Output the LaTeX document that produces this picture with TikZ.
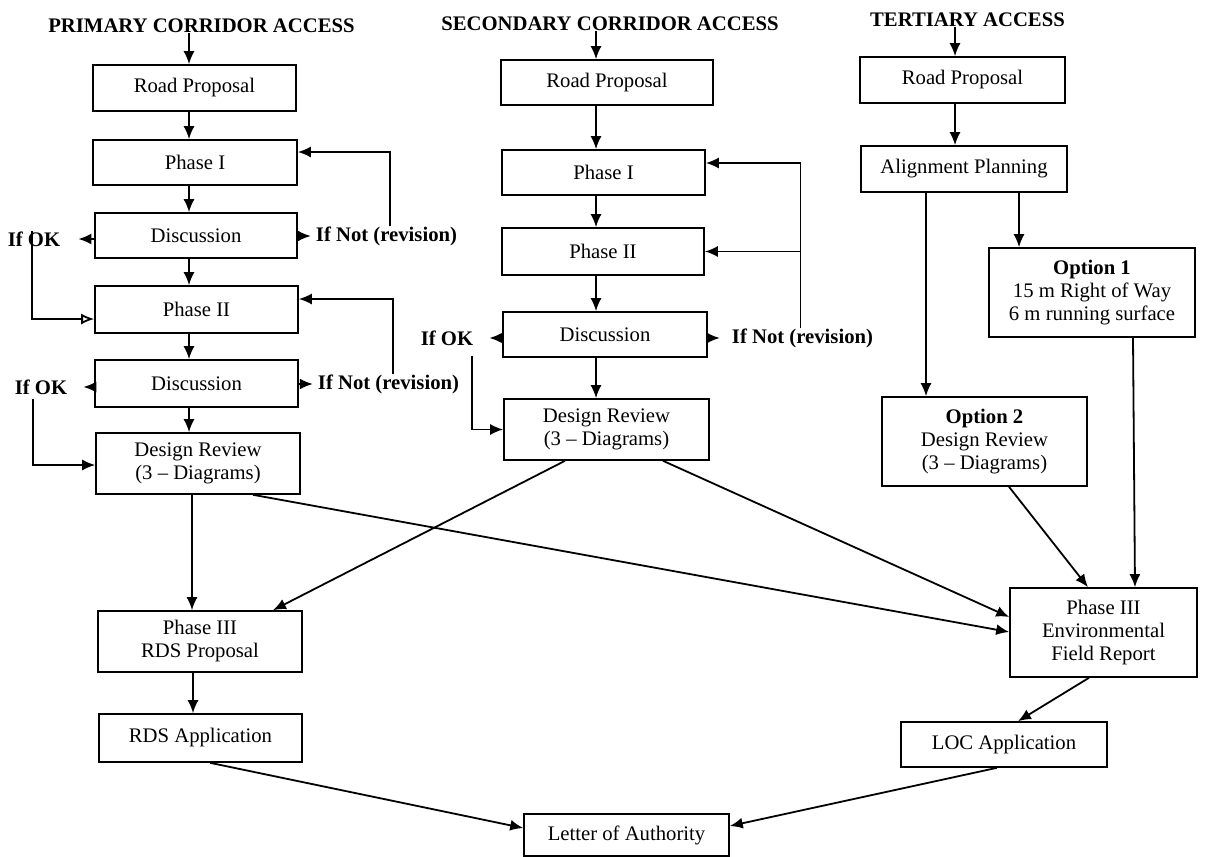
\documentclass[tikz,border=0pt]{standalone}
\usepackage{fontspec}
\setmainfont{Liberation Serif}
\usetikzlibrary{arrows.meta}

\begin{document}
\begin{tikzpicture}[x=1pt,y=-1pt,
  every node/.style={font=\fontsize{20.7}{23}\selectfont, inner sep=0pt},
  box/.style={draw, line width=1.6pt, align=center},
  flow/.style={line width=1.8pt, -{Latex[length=13pt,width=11pt]}},
  hd/.style={font=\fontsize{20.7}{23}\selectfont\bfseries}]

\useasboundingbox (0,0) rectangle (1211,857);

%Headings
\node[hd] (pTitle) at (201.5,26) {PRIMARY CORRIDOR ACCESS};
\node[hd] (sTitle) at (610,24) {SECONDARY CORRIDOR ACCESS};
\node[hd] (tTitle) at (967.5,20) {TERTIARY ACCESS};
\coordinate (pcol) at (189,0);
\coordinate (scol) at (596,0);
\coordinate (tcol) at (955,0);

%Primary Corridor
\node[box, minimum width=203pt, minimum height=46pt] (pRoad) at (194.5,88) {Road Proposal};
\node[box, minimum width=204pt, minimum height=45pt] (pPh1) at (195,162.5) {Phase I};
\node[box, minimum width=202pt, minimum height=45pt] (pDis1) at (196,235.5) {Discussion};
\node[box, minimum width=203pt, minimum height=47pt] (pPh2) at (196.5,309.5) {Phase II};
\node[box, minimum width=203pt, minimum height=47pt] (pDis2) at (196.5,383.5) {Discussion};
\node[box, minimum width=204pt, minimum height=61pt] (pRev) at (198,463.5) {Design Review\\(3 – Diagrams)};
\node[box, minimum width=204pt, minimum height=61pt] (pPh3) at (200,641.5) {Phase III\\RDS Proposal};
\node[box, minimum width=203pt, minimum height=48pt] (pApp) at (200.5,738) {RDS Application};
\node[hd] (pOk1) at (34,239) {If OK};
\node[hd] (pNot1) at (386.5,236) {If Not (revision)};
\node[hd] (pOk2) at (41,387) {If OK};
\node[hd] (pNot2) at (388.5,384) {If Not (revision)};

%Secondary Corridor
\node[box, minimum width=212pt, minimum height=45pt] (sRoad) at (607,82.5) {Road Proposal};
\node[box, minimum width=203pt, minimum height=45pt] (sPh1) at (603.5,172.5) {Phase I};
\node[box, minimum width=202pt, minimum height=47pt] (sPh2) at (603,251.5) {Phase II};
\node[box, minimum width=204pt, minimum height=45pt] (sDis) at (605,334.5) {Discussion};
\node[box, minimum width=205pt, minimum height=61pt] (sRev) at (606.5,429.5) {Design Review\\(3 – Diagrams)};
\node[hd] (sOk) at (447,338) {If OK};
\node[hd] (sNot) at (802.5,338) {If Not (revision)};

%Tertiary Access
\node[box, minimum width=205pt, minimum height=46pt] (tRoad) at (962.5,80) {Road Proposal};
\node[box, minimum width=206pt, minimum height=46pt] (tAlign) at (964,169) {Alignment Planning};
\node[box, minimum width=206pt, minimum height=89pt] (tOpt1) at (1092,292.5) {\textbf{Option 1}\\15 m Right of Way\\6 m running surface};
\node[box, minimum width=205pt, minimum height=89pt] (tOpt2) at (984.5,441.5) {\textbf{Option 2}\\Design Review\\(3 – Diagrams)};
\node[box, minimum width=187pt, minimum height=89pt] (tEnv) at (1103.5,632.5) {Phase III\\Environmental\\Field Report};
\node[box, minimum width=206pt, minimum height=45pt] (tLoc) at (1004,744.5) {LOC Application};

%Final
\node[box, minimum width=205pt, minimum height=42pt] (letter) at (626.5,835) {Letter of Authority};

%Primary Arrows
\draw[flow] (pTitle.south -| pcol) -- (pRoad.north -| pcol);
\draw[flow] (pRoad.south -| pcol) -- (pPh1.north -| pcol);
\draw[flow] (pPh1.south -| pcol) -- (pDis1.north -| pcol);
\draw[flow] (pDis1.south -| pcol) -- (pPh2.north -| pcol);
\draw[flow] (pPh2.south -| pcol) -- (pDis2.north -| pcol);
\draw[flow] (pDis2.south -| pcol) -- (pRev.north -| pcol);
\draw[flow, shorten >=18pt] (pDis1.west |- pOk1) -- (pOk1.east);
\draw[flow, shorten >=5pt] (pDis1.east |- pNot1) -- (pNot1.west);
\draw[flow, shorten >=16pt] (pDis2.west |- pOk2) -- (pOk2.east);
\draw[flow, shorten >=5pt] (pDis2.east |- pNot2) -- (pNot2.west);
\draw[line width=1.8pt, -{Latex[open,length=13pt,width=11pt]}] ([xshift=-2pt]pOk1.north) |- ([yshift=-9.5pt]pPh2.west);
\draw[flow] ([xshift=-8pt,yshift=-4pt]pOk2.south) |- ([yshift=-1.5pt]pRev.west);
\draw[flow] ([xshift=3.5pt]pNot1.north) |- ([yshift=10.5pt]pPh1.east);
\draw[flow] ([xshift=4.5pt]pNot2.north) |- ([yshift=10.5pt]pPh2.east);
\draw[flow] ([xshift=-6pt]pRev.south) -- ([xshift=-6pt]pRev.south |- pPh3.north);
\draw[flow] ([xshift=-7pt]pPh3.south) -- ([xshift=-7pt]pPh3.south |- pApp.north);

%Secondary Arrows
\draw[flow] (sTitle.south -| scol) -- (sRoad.north -| scol);
\draw[flow] (sRoad.south -| scol) -- (sPh1.north -| scol);
\draw[flow] (sPh1.south -| scol) -- (sPh2.north -| scol);
\draw[flow] (sPh2.south -| scol) -- (sDis.north -| scol);
\draw[flow] (sDis.south -| scol) -- (sRev.north -| scol);
\draw[flow, shorten >=16pt] (sDis.west |- sOk) -- (sOk.east);
\draw[flow, shorten >=12pt] (sDis.east |- sNot) -- (sNot.west);
\draw[flow] ([xshift=25pt,yshift=-10pt]sOk.south) |- (sRev.west);
\draw[flow] ([xshift=-2pt]sNot.north) |- ([yshift=9.5pt]sPh1.east);
\draw[flow] ([xshift=-2pt]sNot.north |- sPh2.east) -- (sPh2.east);

%Tertiary Arrows
\draw[flow] (tTitle.south -| tcol) -- (tRoad.north -| tcol);
\draw[flow] (tRoad.south -| tcol) -- (tAlign.north -| tcol);
\draw[flow] ([xshift=-38pt]tAlign.south) -- ([xshift=-38pt]tAlign.south |- tOpt2.north);
\draw[flow] ([xshift=55pt]tAlign.south) -- ([xshift=55pt]tAlign.south |- tOpt1.north);
\draw[flow] ([xshift=24.5pt]tOpt2.south) -- ([xshift=-15.5pt]tEnv.north);
\draw[flow] ([xshift=41pt]tOpt1.south) -- ([xshift=31.5pt]tEnv.north);
\draw[flow] ([xshift=-14.5pt]tEnv.south) -- ([xshift=14pt]tLoc.north);

%Cross Links
\draw[flow] ([xshift=56.5pt]sRev.south) -- ([yshift=15.5pt]tEnv.west);
\draw[flow] ([xshift=55pt]pRev.south) -- ([yshift=0.5pt]tEnv.west);
\draw[flow] ([xshift=-41.5pt]sRev.south) -- ([xshift=73pt]pPh3.north);
\draw[flow] ([xshift=9.5pt]pApp.south) -- ([yshift=7pt]letter.west);
\draw[flow] ([xshift=-7pt]tLoc.south) -- ([yshift=9pt]letter.east);
\end{tikzpicture}
\end{document}
